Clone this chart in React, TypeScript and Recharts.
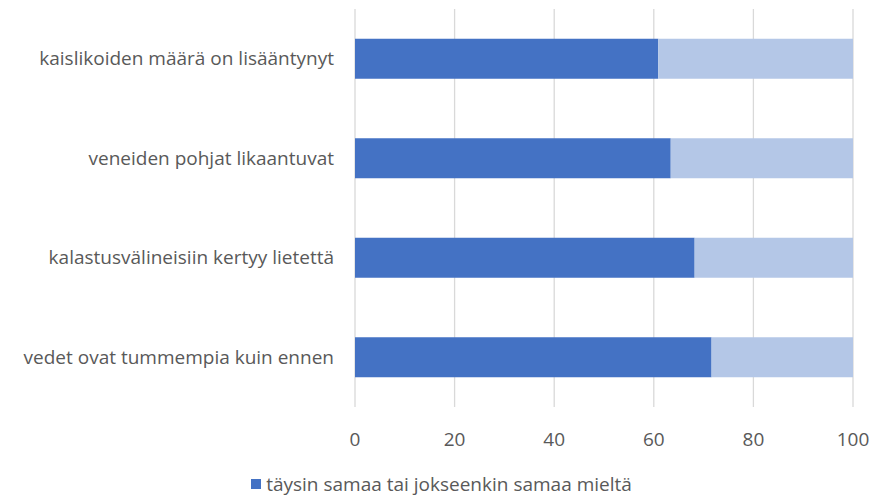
import React from "react";
import { BarChart, Bar, XAxis, YAxis, CartesianGrid, Legend } from "recharts";

const statements = [
  "kaislikoiden määrä on lisääntynyt",
  "veneiden pohjat likaantuvat",
  "kalastusvälineisiin kertyy lietettä",
  "vedet ovat tummempia kuin ennen",
];
const agreeShare = [60.9, 63.4, 68.2, 71.6];
const xTicks = [0, 20, 40, 60, 80, 100];

const data = statements.map((name, i) => ({
  name,
  agree: agreeShare[i],
  rest: 100 - agreeShare[i],
}));

const FONT = "'Open Sans', Lato, sans-serif";
const TEXT = "#595959";

const renderLegend = () => (
  <div style={{ display: "flex", justifyContent: "center", alignItems: "center", height: 30, lineHeight: "30px", fontFamily: FONT, fontSize: 19, color: TEXT, paddingLeft: 30 }}>
    <span style={{ width: 10, height: 10, background: "#4472C4", display: "inline-block", marginRight: 5 }} />
    <span>täysin samaa tai jokseenkin samaa mieltä</span>
  </div>
);

export default function App() {
  return (
    <div style={{ position: "absolute", left: 0, top: 0, width: 872, height: 499, background: "#fff" }}>
      <BarChart
        width={872}
        height={499}
        data={data}
        layout="vertical"
        margin={{ top: 9, right: 19, left: 0, bottom: 0 }}
        barCategoryGap="30%"
      >
        <CartesianGrid horizontal={false} stroke="#D9D9D9" strokeWidth={1.3} />
        <XAxis
          type="number"
          domain={[0, 100]}
          ticks={xTicks}
          axisLine={false}
          tickLine={false}
          tickMargin={20}
          height={62}
          tick={{ fill: TEXT, fontSize: 19, fontFamily: FONT }}
        />
        <YAxis
          type="category"
          dataKey="name"
          width={355}
          axisLine={false}
          tickLine={false}
          tickSize={0}
          tickMargin={21}
          tick={{ fill: TEXT, fontSize: 19, fontFamily: FONT }}
        />
        <Legend verticalAlign="bottom" height={30} content={renderLegend} />
        <Bar dataKey="agree" stackId="a" fill="#4472C4" isAnimationActive={false} />
        <Bar dataKey="rest" stackId="a" fill="#B4C7E7" isAnimationActive={false} />
      </BarChart>
    </div>
  );
}
